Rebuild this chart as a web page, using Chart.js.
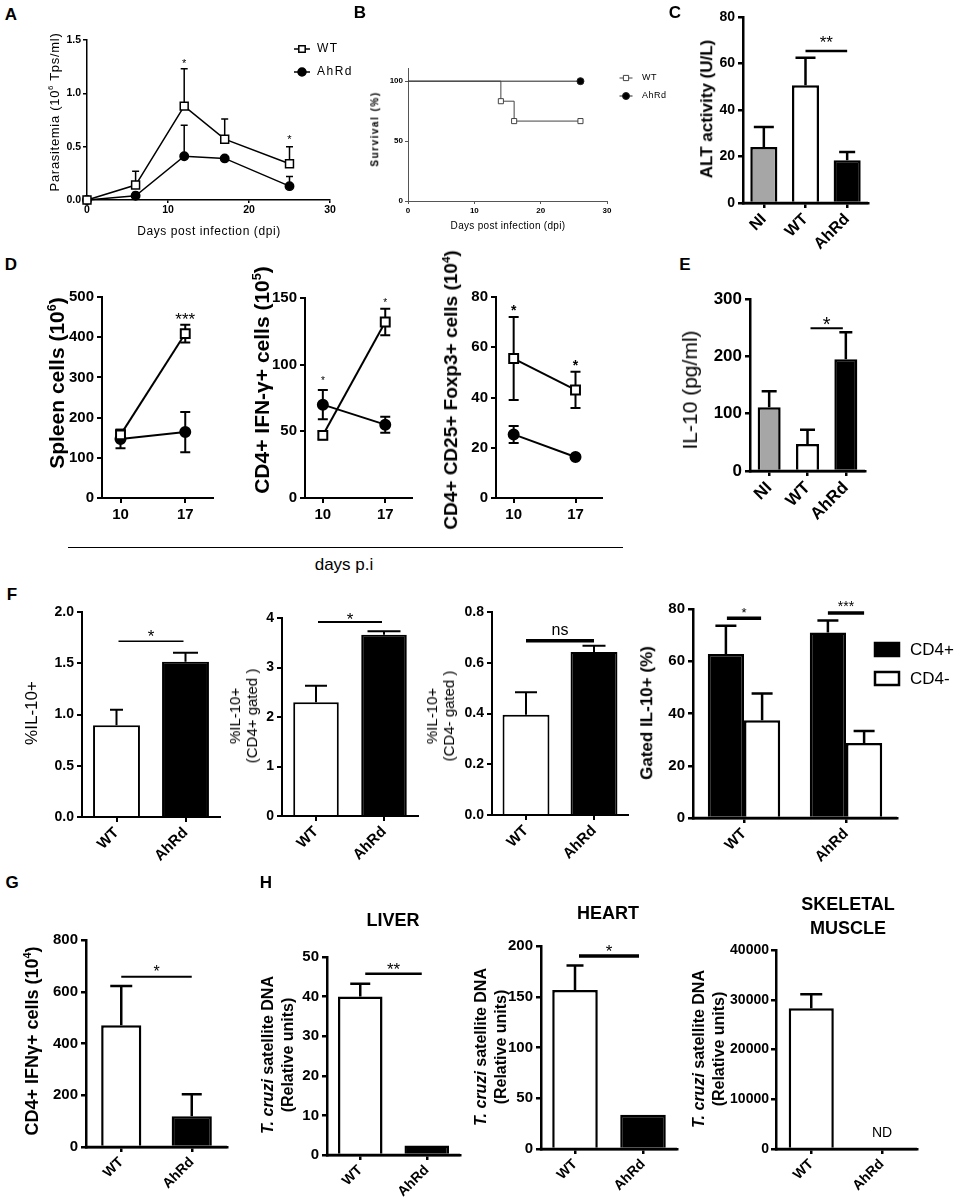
<!DOCTYPE html>
<html>
<head>
<meta charset="utf-8">
<script src="https://cdn.jsdelivr.net/npm/chart.js@4.4.1/dist/chart.umd.min.js"></script>
<style>
body { margin: 0; background: #fff; }
#fig { position: relative; width: 957px; height: 1202px; overflow: hidden; font-family: "Liberation Sans", Arial, Helvetica, sans-serif; color: #000; }
#fig canvas { position: absolute; }
.lab { position: absolute; white-space: nowrap; text-align: center; line-height: 1.15; }
sup { font-size: 0.6em; vertical-align: super; line-height: 0; }
</style>
</head>
<body>
<div id="fig"></div>
<script>
// ---- data ----
// A: parasitemia
const parDays = [0, 6, 12, 17, 25];
const parWT = [0, 0.14, 0.88, 0.57, 0.34];
const parWTErr = [0, 0.13, 0.35, 0.19, 0.16];
const parAh = [0, 0.04, 0.41, 0.39, 0.13];
const parAhErr = [0, 0.03, 0.29, 0, 0.09];
const parStarDays = [12, 25];
const parStarY = [1.31, 0.59];
// B: survival
const survWTDays = [0, 14, 16, 26];
const survWT = [100, 83.3, 66.7, 66.7];
const survAhDays = [0, 26];
const survAh = [100, 100];
const survTicks = [0, 50, 100];
// C: ALT, E: IL-10
const groups3 = ['NI', 'WT', 'AhRd'];
const altMean = [24.1, 50.6, 18.4];
const altErr = [8.6, 11.9, 3.5];
const altSigY = 65.4;
const il10Mean = [111, 47, 195];
const il10Err = [28, 25, 47];
const il10SigY = 249;
// D: time course
const dDays = [10, 17];
const spleenWT = [157, 409], spleenWTErr = [13, 22];
const spleenAh = [147, 164], spleenAhErr = [23, 50];
const ifnWT = [47, 132], ifnWTErr = [3, 10];
const ifnAh = [70, 55], ifnAhErr = [11, 6];
const tregWT = [55.5, 43], tregWTErr = [16.5, 7.2];
const tregAh = [25.3, 16.3], tregAhErr = [3.4, 0.6];
// F, G, H
const groups2 = ['WT', 'AhRd'];
const f1Mean = [0.894, 1.515], f1Err = [0.153, 0.088];
const f2Mean = [2.30, 3.66], f2Err = [0.33, 0.07];
const f3Mean = [0.395, 0.642], f3Err = [0.089, 0.025];
const f4Pos = [62.8, 71.0], f4PosErr = [10.8, 4.6];
const f4Neg = [37.4, 28.7], f4NegErr = [10.3, 4.6];
const ifngMean = [471, 119], ifngErr = [151, 85];
const liverMean = [40.05, 2.4], liverErr = [3.2, 0];
const heartMean = [156.7, 33.8], heartErr = [24, 0];
const skelMean = [28300, 0], skelErr = [2800, 0];

const FF = '"Liberation Sans", Arial, Helvetica, sans-serif';
Chart.defaults.font.family = FF;
Chart.defaults.color = '#000';

const fig = document.getElementById('fig');
const extras = {};

function pts(xs, ys) { return xs.map((x, i) => ({x: x, y: ys[i]})); }

function label(html, x, y, css, rot) {
  const d = document.createElement('div');
  d.className = 'lab';
  d.innerHTML = html;
  d.style.cssText = 'left:' + x + 'px;top:' + y + 'px;transform:translate(-50%,-50%)' + (rot ? ' rotate(-90deg)' : '') + ';' + (css || '');
  fig.appendChild(d);
}

// error bars drawn from the dataset values through the y scale
const errPlugin = {
  id: 'errbars',
  beforeDatasetsDraw(chart) {
    const ctx = chart.ctx, ys = chart.scales.y;
    chart.data.datasets.forEach((ds, i) => {
      if (!ds.err) return;
      const meta = chart.getDatasetMeta(i);
      ctx.save();
      ctx.strokeStyle = '#000';
      ctx.lineWidth = ds.errWidth || 2;
      meta.data.forEach((el, k) => {
        const e = ds.err[k];
        if (!e) return;
        const raw = ds.data[k];
        const v = typeof raw === 'object' ? raw.y : raw;
        const cap = Array.isArray(ds.errCap) ? ds.errCap[k] : ds.errCap;
        const up = ys.getPixelForValue(v + e);
        const down = ds.errBoth ? ys.getPixelForValue(v - e) : el.y;
        ctx.beginPath();
        ctx.moveTo(el.x, down); ctx.lineTo(el.x, up);
        ctx.moveTo(el.x - cap / 2, up); ctx.lineTo(el.x + cap / 2, up);
        if (ds.errBoth) { ctx.moveTo(el.x - cap / 2, down); ctx.lineTo(el.x + cap / 2, down); }
        ctx.stroke();
      });
      ctx.restore();
    });
  }
};

// significance bars, stars and legends
const annotPlugin = {
  id: 'annot',
  afterDraw(chart) {
    const ex = extras[chart.canvas.id];
    if (!ex) return;
    const ctx = chart.ctx, xs = chart.scales.x, ys = chart.scales.y;
    const ca = chart.chartArea;
    ctx.save();
    if (ex.axisW) {
      // bars sit on the axis; draw the axis line again on top of them
      ctx.strokeStyle = '#000'; ctx.lineWidth = ex.axisW;
      ctx.beginPath(); ctx.moveTo(ca.left - ex.axisW / 2, ca.bottom); ctx.lineTo(ca.right, ca.bottom); ctx.stroke();
    }
    ctx.fillStyle = '#000'; ctx.strokeStyle = '#000';
    ctx.textAlign = 'center'; ctx.textBaseline = 'alphabetic';
    (ex.sig || []).forEach(s => {
      const xa = chart.getDatasetMeta(s.a[0]).data[s.a[1]].x + (s.inset || 0);
      const xb = chart.getDatasetMeta(s.b[0]).data[s.b[1]].x - (s.inset || 0);
      const y = ys.getPixelForValue(s.y);
      ctx.lineWidth = s.lw;
      ctx.beginPath(); ctx.moveTo(xa, y); ctx.lineTo(xb, y); ctx.stroke();
      ctx.font = (s.weight || 'normal') + ' ' + s.size + 'px ' + FF;
      ctx.fillText(s.text, (xa + xb) / 2, y - s.dy);
    });
    (ex.stars || []).forEach(s => {
      ctx.font = (s.weight || 'normal') + ' ' + s.size + 'px ' + FF;
      ctx.fillText(s.text, xs.getPixelForValue(s.x), ys.getPixelForValue(s.y) + s.size * 0.58);
    });
    if (ex.draw) {
      ctx.translate(-ex.box[0], -ex.box[1]);
      ex.draw(ctx);
    }
    ctx.restore();
  }
};

function markerLegend(ctx, items) {
  items.forEach(it => {
    ctx.save();
    ctx.strokeStyle = it.color || '#000';
    ctx.lineWidth = it.lw;
    ctx.beginPath(); ctx.moveTo(it.x - it.len / 2, it.y); ctx.lineTo(it.x + it.len / 2, it.y); ctx.stroke();
    ctx.beginPath();
    if (it.shape === 'rect') ctx.rect(it.x - it.r, it.y - it.r, 2 * it.r, 2 * it.r);
    else ctx.arc(it.x, it.y, it.r, 0, Math.PI * 2);
    ctx.fillStyle = it.fill; ctx.fill(); ctx.stroke();
    ctx.fillStyle = '#000';
    ctx.font = it.font;
    ctx.letterSpacing = it.ls || '0px';
    ctx.textAlign = 'left'; ctx.textBaseline = 'middle';
    ctx.fillText(it.text, it.tx, it.y);
    ctx.restore();
  });
}

function axis(w, len, color) {
  const c = color || '#000';
  return {
    border: {display: true, color: c, width: w},
    grid: {display: true, drawOnChartArea: false, drawTicks: true, tickLength: len, tickWidth: w, color: c, lineWidth: w, offset: false}
  };
}

// box = canvas [left, top, width, height]; area = plot area [left, top, right, bottom], page px
function addChart(id, box, area, cfg) {
  const c = document.createElement('canvas');
  c.id = id;
  c.width = box[2]; c.height = box[3];
  c.style.left = box[0] + 'px'; c.style.top = box[1] + 'px';
  c.style.width = box[2] + 'px'; c.style.height = box[3] + 'px';
  fig.appendChild(c);
  const o = cfg.options;
  o.responsive = false;
  o.animation = false;
  o.layout = {padding: {left: 0, top: area[1] - box[1], right: box[0] + box[2] - area[2], bottom: 0}};
  o.plugins = {legend: {display: false}, tooltip: {enabled: false}};
  o.scales.x.afterFit = s => { s.height = box[1] + box[3] - area[3]; };
  o.scales.y.afterFit = s => { s.width = area[0] - box[0]; };
  extras[id] = Object.assign({box: box}, extras[id] || {});
  cfg.plugins = [errPlugin, annotPlugin];
  return new Chart(c, cfg);
}

function lineSet(data, err, shape, r, fill, lw, cap, both, color) {
  return {
    data: data, err: err, errCap: cap, errWidth: lw, errBoth: both,
    borderColor: color || '#000', borderWidth: lw, tension: 0,
    pointStyle: shape, pointRadius: r, pointBackgroundColor: fill,
    pointBorderColor: color || '#000', pointBorderWidth: lw, clip: false
  };
}

function bars(id, box, area, s) {
  extras[id] = Object.assign(extras[id] || {}, {axisW: s.w});
  return addChart(id, box, area, {
    type: 'bar',
    data: {labels: s.labels, datasets: s.sets.map(d => ({
      data: d.data, err: d.err, errCap: d.cap, errWidth: s.w,
      backgroundColor: d.color, borderColor: '#000', borderWidth: s.w, borderSkipped: 'start',
      barPercentage: s.barPct, categoryPercentage: s.catPct || 1
    }))},
    options: {scales: {
      x: Object.assign({type: 'category', offset: true,
        ticks: {font: {size: s.catFont, weight: 'bold'}, minRotation: 45, maxRotation: 45, autoSkip: false, padding: 2}},
        axis(s.w, s.tickLen || 5)),
      y: Object.assign({min: 0, max: s.yMax,
        ticks: {stepSize: s.step, font: {size: s.tickFont, weight: 'bold'}, padding: s.tickPad || 3, callback: s.fmt || (v => v)}},
        axis(s.w, s.tickLen || 5))
    }}
  });
}

// ---- A ----
extras.chA = {
  stars: parStarDays.map((d, i) => ({x: d, y: parStarY[i], text: '*', size: 11})),
  draw: ctx => markerLegend(ctx, [
    {x: 302, y: 49, len: 16, lw: 1.5, shape: 'rect', r: 3.2, fill: '#fff', text: 'WT', tx: 317, font: '12px ' + FF, ls: '1.5px'},
    {x: 302, y: 72, len: 16, lw: 1.5, shape: 'circle', r: 4, fill: '#000', text: 'AhRd', tx: 317, font: '12px ' + FF, ls: '1.5px'}
  ])
};
addChart('chA', [40, 15, 320, 235], [87, 40, 330, 200], {
  type: 'line',
  data: {datasets: [
    lineSet(pts(parDays, parWT), parWTErr, 'rect', 5.6, '#fff', 1.5, 7, false),
    lineSet(pts(parDays, parAh), parAhErr, 'circle', 4.2, '#000', 1.5, 7, false)
  ]},
  options: {scales: {
    x: Object.assign({type: 'linear', min: 0, max: 30, ticks: {stepSize: 10, font: {size: 10.5, weight: 'bold'}, padding: 1}}, axis(1.5, 3)),
    y: Object.assign({min: 0, max: 1.5, ticks: {stepSize: 0.5, font: {size: 10.5, weight: 'bold'}, padding: 2, callback: v => v.toFixed(1)}}, axis(1.5, 4))
  }}
});

// ---- B ----
extras.chB = {
  draw: ctx => markerLegend(ctx, [
    {x: 626, y: 78, len: 13, lw: 1, color: '#444', shape: 'rect', r: 2.6, fill: '#fff', text: 'WT', tx: 642, font: '9px ' + FF, ls: '0.5px'},
    {x: 626, y: 96, len: 13, lw: 1, color: '#222', shape: 'circle', r: 3.5, fill: '#000', text: 'AhRd', tx: 642, font: '9px ' + FF, ls: '0.5px'}
  ])
};
addChart('chB', [365, 45, 310, 190], [408, 68, 607, 201], {
  type: 'line',
  data: {datasets: [
    Object.assign(lineSet(pts(survWTDays, survWT), null, 'rect', [0, 3.6, 3.6, 3.6], '#fff', 1, 0, false, '#444'), {stepped: 'before'}),
    lineSet(pts(survAhDays, survAh), null, 'circle', [0, 3.5], '#000', 1, 0, false, '#222')
  ]},
  options: {scales: {
    x: Object.assign({type: 'linear', min: 0, max: 30, ticks: {stepSize: 10, font: {size: 8, weight: 'bold'}, padding: 2}}, axis(1, 3, '#555')),
    y: Object.assign({min: 0, max: 111, afterBuildTicks: s => { s.ticks = survTicks.map(v => ({value: v})); },
      ticks: {font: {size: 8, weight: 'bold'}, padding: 2}}, axis(1, 3, '#555'))
  }}
});

// ---- C ----
const colors3 = ['#a6a6a6', '#ffffff', '#000000'];
extras.chC = {sig: [{a: [0, 1], b: [0, 2], y: altSigY, text: '**', size: 17, lw: 2.5, dy: 3}]};
bars('chC', [700, 0, 200, 258], [743, 17, 868, 203], {
  labels: groups3, sets: [{data: altMean, err: altErr, color: colors3, cap: [20, 20, 16]}],
  yMax: 80, step: 20, tickFont: 14, catFont: 16, w: 2.5, barPct: 0.65
});

// ---- D ----
function dChart(id, box, area, wt, wtErr, ah, ahErr, yMax, step) {
  return addChart(id, box, area, {
    type: 'line',
    data: {datasets: [
      lineSet(pts(dDays, wt), wtErr, 'rect', 6.3, '#fff', 2, 10, true),
      lineSet(pts(dDays, ah), ahErr, 'circle', 5, '#000', 2, 10, true)
    ]},
    options: {scales: {
      x: Object.assign({type: 'linear', min: 8, max: 20, afterBuildTicks: s => { s.ticks = dDays.map(v => ({value: v})); },
        ticks: {font: {size: 15, weight: 'bold'}, padding: 3}}, axis(2, 5)),
      y: Object.assign({min: 0, max: yMax, ticks: {stepSize: step, font: {size: 15, weight: 'bold'}, padding: 3}}, axis(2, 5))
    }}
  });
}
extras.chD1 = {stars: [{x: 17, y: 455, text: '***', size: 17}]};
dChart('chD1', [55, 272, 170, 258], [102, 297, 213, 498], spleenWT, spleenWTErr, spleenAh, spleenAhErr, 500, 100);
extras.chD2 = {stars: [{x: 10, y: 90, text: '*', size: 10}, {x: 17, y: 148.5, text: '*', size: 10}]};
dChart('chD2', [265, 272, 160, 258], [305, 298, 412, 498], ifnWT, ifnWTErr, ifnAh, ifnAhErr, 150, 50);
extras.chD3 = {stars: [{x: 10, y: 76, text: '*', size: 14, weight: 'bold'}, {x: 17, y: 54, text: '*', size: 14, weight: 'bold'}]};
dChart('chD3', [455, 272, 160, 258], [496, 297, 602, 498], tregWT, tregWTErr, tregAh, tregAhErr, 80, 20);

// ---- E ----
extras.chE = {sig: [{a: [0, 1], b: [0, 2], y: il10SigY, text: '*', size: 20, lw: 2, dy: -3, inset: 3}]};
bars('chE', [700, 275, 190, 290], [750, 299, 865, 471], {
  labels: groups3, sets: [{data: il10Mean, err: il10Err, color: colors3, cap: [15, 15, 13]}],
  yMax: 300, step: 100, tickFont: 17, catFont: 17, w: 2.5, barPct: 0.6
});

// ---- F ----
const fix1 = v => v.toFixed(1);
extras.chF1 = {sig: [{a: [0, 0], b: [0, 1], y: 1.714, text: '*', size: 17, lw: 1.5, dy: -1, inset: 2}]};
bars('chF1', [35, 590, 200, 290], [82, 612, 220, 817], {
  labels: groups2, sets: [{data: f1Mean, err: f1Err, color: ['#fff', '#000'], cap: [13, 25]}],
  yMax: 2, step: 0.5, fmt: fix1, tickFont: 14, catFont: 15, w: 2, barPct: 0.68
});
extras.chF2 = {sig: [{a: [0, 0], b: [0, 1], y: 3.92, text: '*', size: 17, lw: 2, dy: -3, inset: 2}]};
bars('chF2', [245, 590, 190, 290], [282, 618, 418, 816], {
  labels: groups2, sets: [{data: f2Mean, err: f2Err, color: ['#fff', '#000'], cap: [22, 33]}],
  yMax: 4, step: 1, tickFont: 14, catFont: 15, w: 2, barPct: 0.67
});
extras.chF3 = {sig: [{a: [0, 0], b: [0, 1], y: 0.687, text: 'ns', size: 16, lw: 3.5, dy: 6}]};
bars('chF3', [450, 590, 190, 290], [492, 612, 628, 815], {
  labels: groups2, sets: [{data: f3Mean, err: f3Err, color: ['#fff', '#000'], cap: [22, 23]}],
  yMax: 0.8, step: 0.2, fmt: fix1, tickFont: 14, catFont: 15, w: 2, barPct: 0.69
});
extras.chF4 = {
  sig: [
    {a: [0, 0], b: [1, 0], y: 76.5, text: '*', size: 13, lw: 3.5, dy: 1.5, inset: 1},
    {a: [0, 1], b: [1, 1], y: 78.5, text: '***', size: 14, lw: 3.5, dy: 1.5}
  ],
  draw: ctx => {
    ctx.lineWidth = 2.5; ctx.strokeStyle = '#000';
    ctx.fillStyle = '#000'; ctx.fillRect(875, 643, 24, 13); ctx.strokeRect(875, 643, 24, 13);
    ctx.fillStyle = '#fff'; ctx.fillRect(875, 672, 24, 13); ctx.strokeRect(875, 672, 24, 13);
    ctx.fillStyle = '#000'; ctx.font = '17px ' + FF; ctx.textAlign = 'left'; ctx.textBaseline = 'middle';
    ctx.fillText('CD4+', 910, 650); ctx.fillText('CD4-', 910, 679);
  }
};
bars('chF4', [650, 585, 307, 295], [693, 609, 897, 818], {
  labels: groups2, sets: [
    {data: f4Pos, err: f4PosErr, color: '#000', cap: 21},
    {data: f4Neg, err: f4NegErr, color: '#fff', cap: 21}
  ],
  yMax: 80, step: 20, tickFont: 15, catFont: 15, w: 2.5, barPct: 1, catPct: 0.71
});

// ---- G ----
extras.chG = {sig: [{a: [0, 0], b: [0, 1], y: 658, text: '*', size: 16, lw: 2, dy: 0}]};
bars('chG', [40, 915, 205, 287], [86, 940, 227, 1147], {
  labels: groups2, sets: [{data: ifngMean, err: ifngErr, color: ['#fff', '#000'], cap: [22, 20]}],
  yMax: 800, step: 200, tickFont: 15, catFont: 14, w: 2.5, barPct: 0.57
});

// ---- H ----
extras.chLiver = {sig: [{a: [0, 0], b: [0, 1], y: 45.8, text: '**', size: 17, lw: 2.5, dy: -1, inset: 5}]};
bars('chLiver', [290, 930, 185, 272], [327, 957, 460, 1155], {
  labels: groups2, sets: [{data: liverMean, err: liverErr, color: ['#fff', '#000'], cap: [20, 0]}],
  yMax: 50, step: 10, tickFont: 15, catFont: 14, w: 2.5, barPct: 0.67
});
extras.chHeart = {sig: [{a: [0, 0], b: [0, 1], y: 190.2, text: '*', size: 17, lw: 3.5, dy: -1, inset: 4}]};
bars('chHeart', [495, 920, 195, 282], [541, 946, 677, 1149], {
  labels: groups2, sets: [{data: heartMean, err: heartErr, color: ['#fff', '#000'], cap: [17, 0]}],
  yMax: 200, step: 50, tickFont: 15, catFont: 14, w: 2.5, barPct: 0.67
});
bars('chSkel', [715, 925, 220, 277], [776, 950, 917, 1149], {
  labels: groups2, sets: [{data: skelMean, err: skelErr, color: ['#fff', '#000'], cap: [22, 0]}],
  yMax: 40000, step: 10000, tickFont: 14, tickPad: 2, catFont: 14, w: 2.5, barPct: 0.64
});

// ---- text outside the plot areas ----
const letter = 'font-weight:bold;font-size:17px;';
label('A', 11, 15, letter); label('B', 360, 13, letter); label('C', 675, 13, letter);
label('D', 11, 265, letter); label('E', 685, 265, letter); label('F', 12, 595, letter);
label('G', 12, 883, letter); label('H', 266, 883, letter);

label('Parasitemia (10<sup>6</sup> Tps/ml)', 55, 112, 'font-size:13px;letter-spacing:0.7px;', true);
label('Days post infection (dpi)', 209, 232, 'font-size:12px;letter-spacing:0.6px;');
label('Survival (%)', 375, 129, 'font-size:10px;font-weight:bold;letter-spacing:1.5px;', true);
label('Days post infection (dpi)', 508, 226, 'font-size:10px;letter-spacing:0.3px;');
label('ALT activity (U/L)', 707, 109, 'font-size:17px;font-weight:bold;', true);

label('Spleen cells (10<sup>6</sup>)', 57, 383, 'font-size:21px;font-weight:bold;', true);
label('CD4+ IFN-&gamma;+ cells (10<sup>5</sup>)', 262, 380, 'font-size:21px;font-weight:bold;', true);
label('CD4+ CD25+ Foxp3+ cells (10<sup>4</sup>)', 451, 390, 'font-size:19px;font-weight:bold;', true);
const dline = document.createElement('div');
dline.style.cssText = 'position:absolute;left:68px;top:547px;width:555px;border-top:1.5px solid #000;';
fig.appendChild(dline);
label('days p.i', 344, 565, 'font-size:17px;');
label('IL-10 (pg/ml)', 690, 390, 'font-size:21px;', true);

label('%IL-10+', 32, 713, 'font-size:17px;', true);
label('%IL-10+<br>(CD4+ gated )', 243, 716, 'font-size:15px;line-height:17px;', true);
label('%IL-10+<br>(CD4- gated )', 440, 716, 'font-size:15px;line-height:17px;', true);
label('Gated IL-10+ (%)', 647, 713, 'font-size:17px;font-weight:bold;', true);

label('CD4+ IFN&gamma;+ cells (10<sup>4</sup>)', 32, 1041, 'font-size:18px;font-weight:bold;', true);
const hLab = '<i>T. cruzi</i> satellite DNA<br>(Relative units)';
const hCss = 'font-size:16px;font-weight:bold;line-height:20px;';
label(hLab, 278, 1055, hCss, true);
label(hLab, 491, 1047, hCss, true);
label(hLab, 709, 1049, hCss, true);
const tCss = 'font-size:18px;font-weight:bold;';
label('LIVER', 393, 920, tCss);
label('HEART', 608, 913, tCss);
label('SKELETAL<br>MUSCLE', 848, 916, tCss + 'line-height:24px;');
label('ND', 882, 1132, 'font-size:14px;');
</script>
</body>
</html>
